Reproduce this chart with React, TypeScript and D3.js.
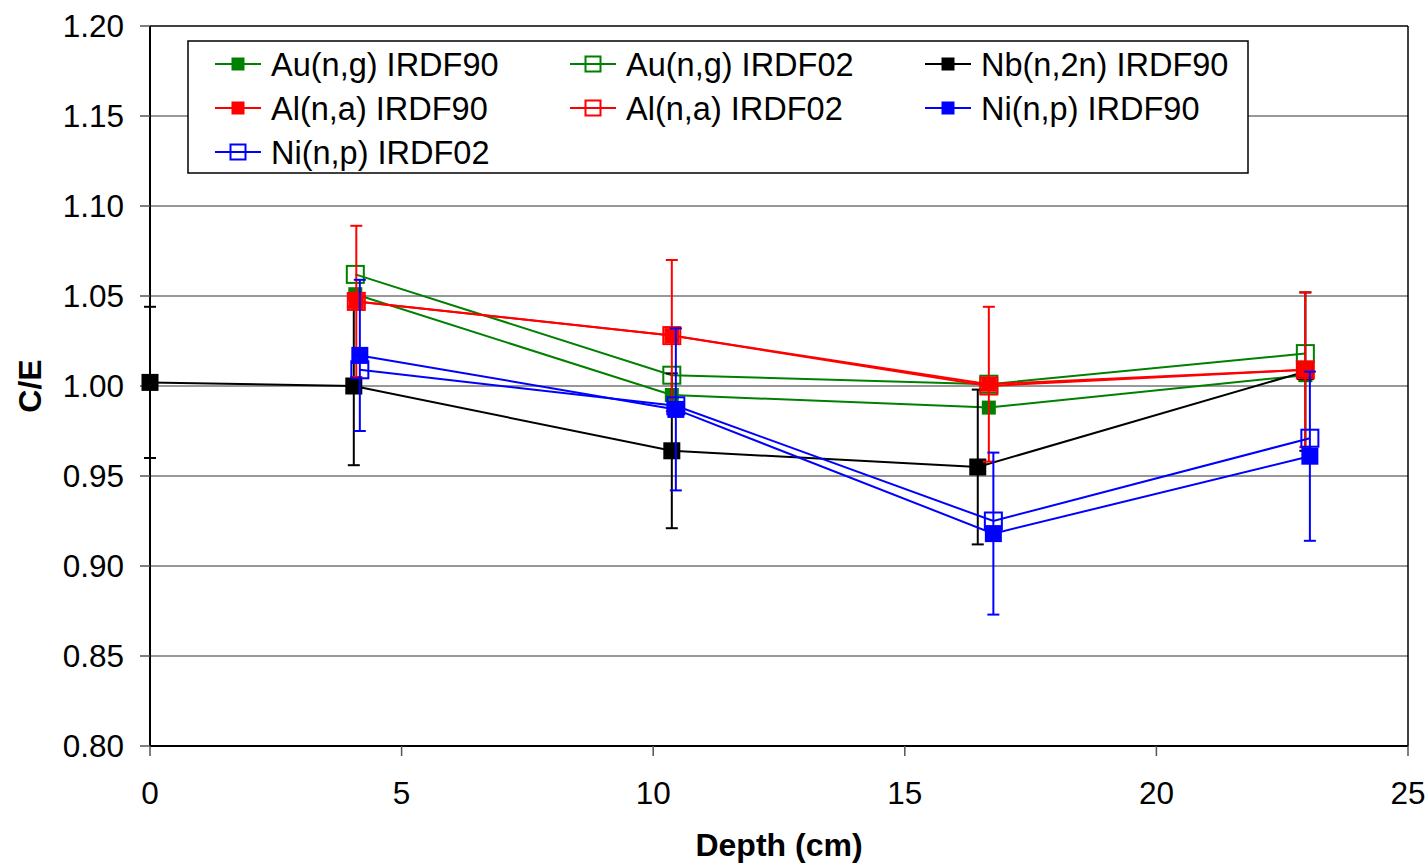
import React from "react";
import * as d3 from "d3";

const auX = [4.08, 10.37, 16.67, 22.96];
const au90 = [1.051, 0.995, 0.988, 1.006];
const au02 = [1.062, 1.006, 1.001, 1.018];
const nbX = [0, 4.05, 10.37, 16.45, 22.96];
const nb90 = [1.002, 1.0, 0.964, 0.955, 1.008];
const nbErr = [0.042, 0.044, 0.043, 0.043, 0.044];
const alX = [4.1, 10.37, 16.67, 22.96];
const al90 = [1.047, 1.028, 1.001, 1.009];
const alErr = [0.042, 0.042, 0.043, 0.043];
const al02 = [1.047, 1.028, 1.0, 1.009];
const niX = [4.17, 10.45, 16.76, 23.05];
const ni90 = [1.017, 0.987, 0.918, 0.961];
const niErr = [0.042, 0.045, 0.045, 0.047];
const ni02 = [1.009, 0.989, 0.925, 0.971];

const xTicks = [0, 5, 10, 15, 20, 25];
const yTicks = [0.8, 0.85, 0.9, 0.95, 1.0, 1.05, 1.1, 1.15, 1.2];

type Series = {
  name: string;
  color: string;
  xs: number[];
  ys: number[];
  err?: number[];
  filled: boolean;
  size: number;
};

const series: Series[] = [
  { name: "Au(n,g) IRDF90", color: "#008000", xs: auX, ys: au90, filled: true, size: 12 },
  { name: "Au(n,g) IRDF02", color: "#008000", xs: auX, ys: au02, filled: false, size: 17 },
  { name: "Nb(n,2n) IRDF90", color: "#000000", xs: nbX, ys: nb90, err: nbErr, filled: true, size: 15 },
  { name: "Al(n,a) IRDF90", color: "#ff0000", xs: alX, ys: al90, err: alErr, filled: true, size: 13 },
  { name: "Al(n,a) IRDF02", color: "#ff0000", xs: alX, ys: al02, filled: false, size: 17 },
  { name: "Ni(n,p) IRDF90", color: "#0000ff", xs: niX, ys: ni90, err: niErr, filled: true, size: 15 },
  { name: "Ni(n,p) IRDF02", color: "#0000ff", xs: niX, ys: ni02, filled: false, size: 17 },
];

const W = 1428;
const H = 865;
const L = 150, R = 1408, T = 26, B = 746;
const FONT = "'Liberation Sans', Arial, sans-serif";

export default function App() {
  const x = d3.scaleLinear().domain([0, 25]).range([L, R]);
  const y = d3.scaleLinear().domain([0.8, 1.2]).range([B, T]);
  const line = d3.line<[number, number]>().x((d) => x(d[0])).y((d) => y(d[1]));

  const legendCols = [215, 570, 925];
  const legendRows = [64, 108, 152];

  return (
    <svg width={W} height={H} style={{ position: "absolute", left: 0, top: 0, background: "#fff" }} fontFamily={FONT}>
      <rect x={0} y={0} width={W} height={H} fill="#fff" />
      {yTicks.slice(1, -1).map((t) => (
        <line key={"g" + t} x1={L} x2={R} y1={y(t)} y2={y(t)} stroke="#333" strokeWidth={1.2} />
      ))}
      <line x1={L} x2={R} y1={T} y2={T} stroke="#000" strokeWidth={1.5} />
      <line x1={R} x2={R} y1={T} y2={B} stroke="#000" strokeWidth={1.5} />
      <line x1={L} x2={R} y1={B} y2={B} stroke="#000" strokeWidth={2} />
      <line x1={L} x2={L} y1={T} y2={B} stroke="#000" strokeWidth={2} />
      {yTicks.map((t) => (
        <g key={"yt" + t}>
          <line x1={L - 10} x2={L} y1={y(t)} y2={y(t)} stroke="#555" strokeWidth={1.5} />
          <text x={124} y={y(t) + 11} textAnchor="end" fontSize={31.5} fill="#000">
            {d3.format(".2f")(t)}
          </text>
        </g>
      ))}
      {xTicks.map((t) => (
        <g key={"xt" + t}>
          <line x1={x(t)} x2={x(t)} y1={B} y2={B + 10} stroke="#555" strokeWidth={1.5} />
          <text x={x(t)} y={804} textAnchor="middle" fontSize={31.5} fill="#000">
            {t}
          </text>
        </g>
      ))}
      <text x={779} y={856} textAnchor="middle" fontSize={32} fontWeight="bold">
        Depth (cm)
      </text>
      <text transform={`translate(41,386) rotate(-90)`} textAnchor="middle" fontSize={32} fontWeight="bold">
        C/E
      </text>
      {series.map((s) => {
        const pts = s.xs.map((xv, i) => [xv, s.ys[i]] as [number, number]);
        return (
          <g key={s.name}>
            <path d={line(pts) || ""} fill="none" stroke={s.color} strokeWidth={2} />
            {s.err &&
              pts.map((p, i) => {
                const cx = x(p[0]);
                const y1 = y(p[1] + s.err![i]);
                const y2 = y(p[1] - s.err![i]);
                return (
                  <g key={"e" + i} stroke={s.color} strokeWidth={2}>
                    <line x1={cx} x2={cx} y1={y1} y2={y2} />
                    <line x1={cx - 6} x2={cx + 6} y1={y1} y2={y1} />
                    <line x1={cx - 6} x2={cx + 6} y1={y2} y2={y2} />
                  </g>
                );
              })}
            {pts.map((p, i) => (
              <rect
                key={"m" + i}
                x={x(p[0]) - s.size / 2}
                y={y(p[1]) - s.size / 2}
                width={s.size}
                height={s.size}
                fill={s.filled ? s.color : "none"}
                stroke={s.color}
                strokeWidth={2}
              />
            ))}
          </g>
        );
      })}
      <rect x={188} y={41} width={1060} height={132} fill="#fff" stroke="#000" strokeWidth={1.5} />
      {series.map((s, i) => {
        const col = i % 3;
        const row = Math.floor(i / 3);
        const lx = legendCols[col];
        const ly = legendRows[row];
        const ms = s.filled ? 11 : 15;
        return (
          <g key={"lg" + s.name}>
            <line x1={lx} x2={lx + 46} y1={ly} y2={ly} stroke={s.color} strokeWidth={2} />
            <rect
              x={lx + 23 - ms / 2}
              y={ly - ms / 2}
              width={ms}
              height={ms}
              fill={s.filled ? s.color : "none"}
              stroke={s.color}
              strokeWidth={2}
            />
            <text x={lx + 56} y={ly + 11.5} fontSize={32.5} fill="#000">
              {s.name}
            </text>
          </g>
        );
      })}
    </svg>
  );
}
